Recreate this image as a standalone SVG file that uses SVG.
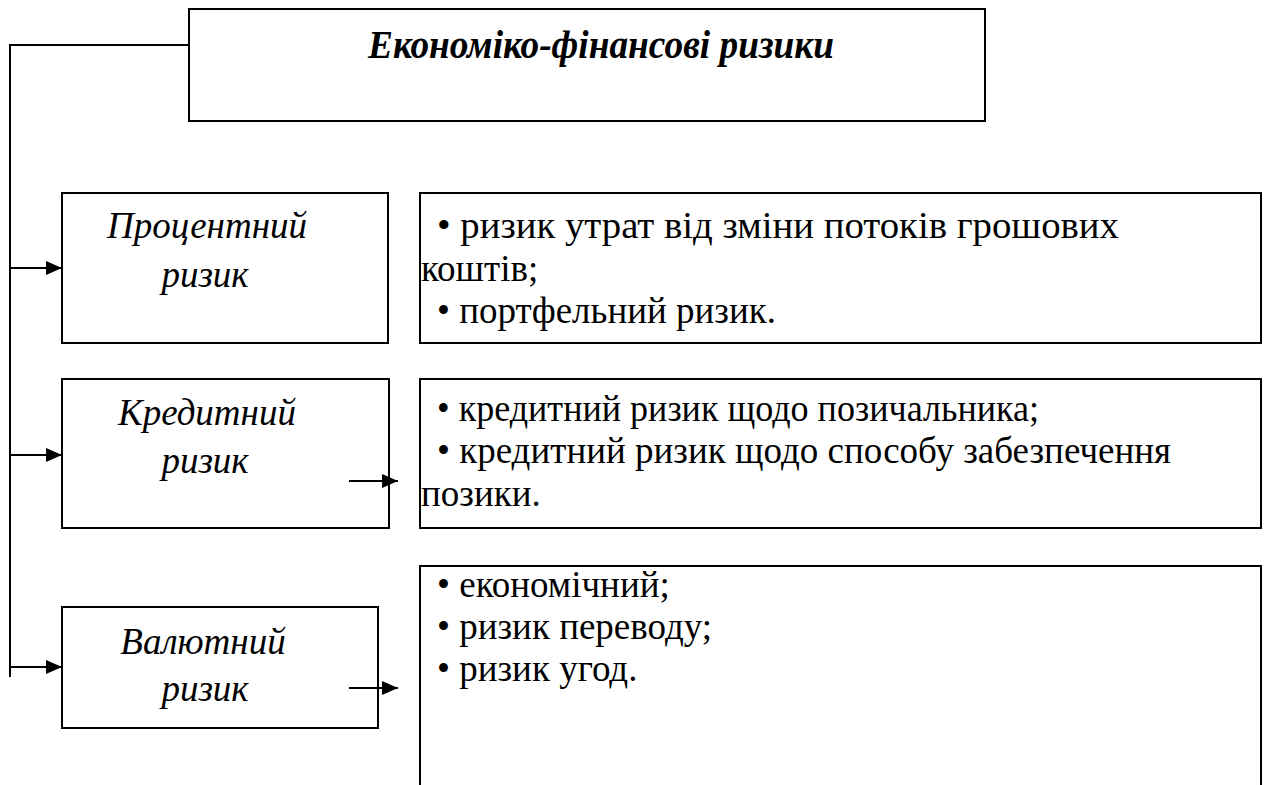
<svg xmlns="http://www.w3.org/2000/svg" width="1266" height="785" viewBox="0 0 1266 785">
<style>
.box{fill:#fff;stroke:#000;stroke-width:2}
.ln{stroke:#000;stroke-width:2;fill:none}
.lbl{font-family:'Liberation Serif','Times New Roman',serif;font-style:italic;font-size:37px;fill:#000}
.txt{font-family:'Liberation Serif','Times New Roman',serif;font-size:37px;fill:#000}
.ttl{font-family:'Liberation Serif','Times New Roman',serif;font-style:italic;font-weight:bold;font-size:39px;fill:#000}
</style>
<defs>
<marker id="ah" markerWidth="16" markerHeight="16" refX="16" refY="8" orient="auto" markerUnits="userSpaceOnUse">
<path d="M0,1 L16,8 L0,15 Z" fill="#000"/>
</marker>
</defs>
<rect width="1266" height="785" fill="#fff"/>
<g id="title">
<rect class="box" x="189" y="9" width="796" height="112"/>
<text class="ttl" x="368" y="58" textLength="466" lengthAdjust="spacingAndGlyphs">Економіко-фінансові ризики</text>
</g>
<g id="n1">
<rect class="box" x="62" y="193" width="326" height="150"/>
<text class="lbl" x="207" y="238" text-anchor="middle">Процентний</text>
<text class="lbl" x="205" y="287" text-anchor="middle">ризик</text>
</g>
<g id="d1">
<rect class="box" x="420" y="193" width="841" height="150"/>
<text class="txt" x="437" y="238" textLength="682" lengthAdjust="spacingAndGlyphs">• ризик утрат від зміни потоків грошових</text>
<text class="txt" x="421" y="281">коштів;</text>
<text class="txt" x="437" y="323">• портфельний ризик.</text>
</g>
<g id="n2">
<rect class="box" x="62" y="379" width="327" height="149"/>
<text class="lbl" x="207" y="425" text-anchor="middle">Кредитний</text>
<text class="lbl" x="205" y="473" text-anchor="middle">ризик</text>
</g>
<g id="d2">
<rect class="box" x="420" y="379" width="841" height="149"/>
<text class="txt" x="437" y="421" textLength="602" lengthAdjust="spacingAndGlyphs">• кредитний ризик щодо позичальника;</text>
<text class="txt" x="437" y="463">• кредитний ризик щодо способу забезпечення</text>
<text class="txt" x="421" y="506">позики.</text>
</g>
<g id="n3">
<rect class="box" x="62" y="607" width="316" height="121"/>
<text class="lbl" x="203" y="654" text-anchor="middle">Валютний</text>
<text class="lbl" x="205" y="701" text-anchor="middle">ризик</text>
</g>
<g id="d3">
<path class="ln" d="M420,790 L420,566 L1261,566 L1261,790"/>
<text class="txt" x="437" y="597">• економічний;</text>
<text class="txt" x="437" y="639">• ризик переводу;</text>
<text class="txt" x="437" y="681">• ризик угод.</text>
</g>
<g id="connectors">
<path class="ln" d="M189,45 L10,45 L10,677"/>
<line class="ln" x1="10" y1="268" x2="62" y2="268" marker-end="url(#ah)"/>
<line class="ln" x1="10" y1="455" x2="62" y2="455" marker-end="url(#ah)"/>
<line class="ln" x1="10" y1="667" x2="62" y2="667" marker-end="url(#ah)"/>
<line class="ln" x1="349" y1="481" x2="398" y2="481" marker-end="url(#ah)"/>
<line class="ln" x1="349" y1="688" x2="398" y2="688" marker-end="url(#ah)"/>
</g>
</svg>
